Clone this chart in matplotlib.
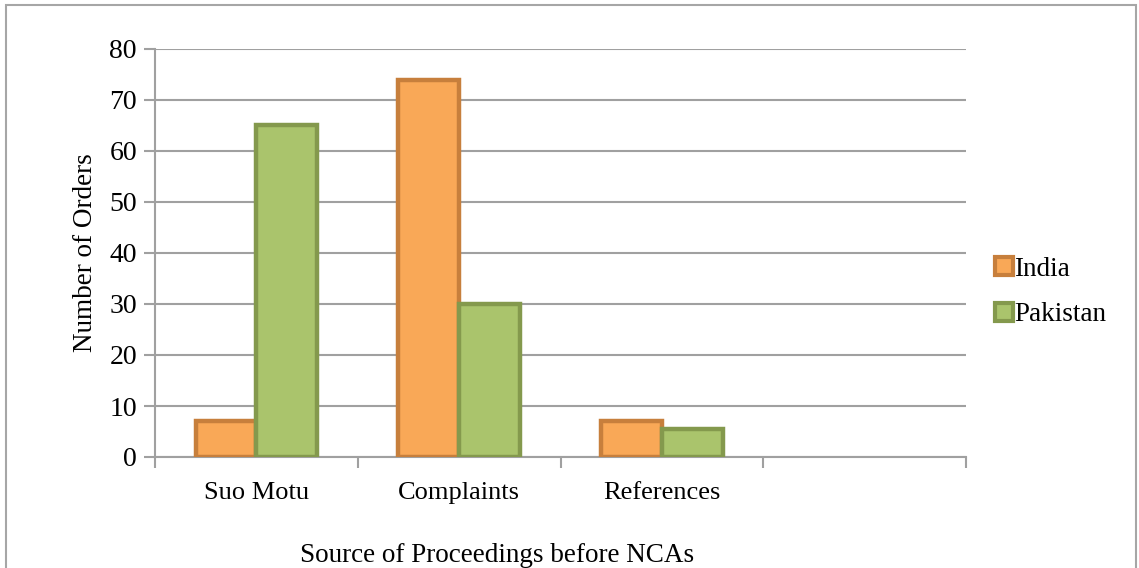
import numpy as np
import matplotlib.pyplot as plt
from matplotlib.lines import Line2D
from matplotlib.patches import Rectangle

# Datos
categorias = ["Suo Motu", "Complaints", "References", ""]
india = [7, 74, 7]
pakistan = [65, 30, 5.5]
y_ticks = [0, 10, 20, 30, 40, 50, 60, 70, 80]

plt.rcParams['font.family'] = ['Liberation Serif', 'DejaVu Serif']

fig = plt.figure(figsize=(11.39, 5.68), dpi=100)
ax = fig.add_axes([155 / 1139, 1 - 457 / 568, (966 - 155) / 1139, (457 - 49) / 568])

c_india, e_india = '#F9A857', '#C77F3C'
c_pak, e_pak = '#AAC46C', '#84994D'
gris = '#A0A0A0'

x = np.arange(len(india))
w = 0.3
ax.bar(x - w / 2, india, w, color=c_india, edgecolor=e_india, linewidth=3.2, zorder=3)
ax.bar(x + w / 2, pakistan, w, color=c_pak, edgecolor=e_pak, linewidth=3.2, zorder=3)

ax.set_xlim(-0.5, len(categorias) - 0.5)
ax.set_ylim(0, 80)
ax.set_yticks(y_ticks)
ax.yaxis.grid(True, color=gris, linewidth=1.5, zorder=0)
ax.set_axisbelow(True)

# Marcas del eje x en los limites de cada categoria
ax.set_xticks(np.arange(len(categorias) + 1) - 0.5)
ax.set_xticklabels([])
ax.set_xticks(np.arange(len(categorias)), minor=True)
ax.set_xticklabels(categorias, minor=True)
ax.tick_params(axis='x', which='major', length=8, width=1.5, color=gris, direction='out')
ax.tick_params(axis='x', which='minor', length=0, pad=18, labelsize=19)
ax.tick_params(axis='y', length=8, width=1.5, color=gris, labelsize=20, pad=5)

for s in ['top', 'right']:
    ax.spines[s].set_visible(False)
for s in ['left', 'bottom']:
    ax.spines[s].set_color(gris)
    ax.spines[s].set_linewidth(1.5)

ax.set_ylabel("Number of Orders", fontsize=19.5, labelpad=8)
fig.text(497 / 1139, 1 - 555 / 568, "Source of Proceedings before NCAs",
         ha='center', va='center', fontsize=19.5)

# Leyenda
handles = [
    Line2D([], [], linestyle='none', marker='s', markersize=13,
           markerfacecolor=c_india, markeredgecolor=e_india, markeredgewidth=3),
    Line2D([], [], linestyle='none', marker='s', markersize=13,
           markerfacecolor=c_pak, markeredgecolor=e_pak, markeredgewidth=3),
]
fig.legend(handles, ["India", "Pakistan"], loc='center left',
           bbox_to_anchor=(971 / 1139, 1 - 292 / 568), frameon=False,
           fontsize=19.5, handlelength=0.6, handletextpad=0.1, labelspacing=0.75)

# Borde del grafico
fig.patches.append(Rectangle((6 / 1139, -0.02), 1130 / 1139, 1 - 5 / 568 + 0.02,
                             transform=fig.transFigure, fill=False,
                             edgecolor='#A6A6A6', linewidth=1.5))

plt.savefig("out.png", dpi=100)
